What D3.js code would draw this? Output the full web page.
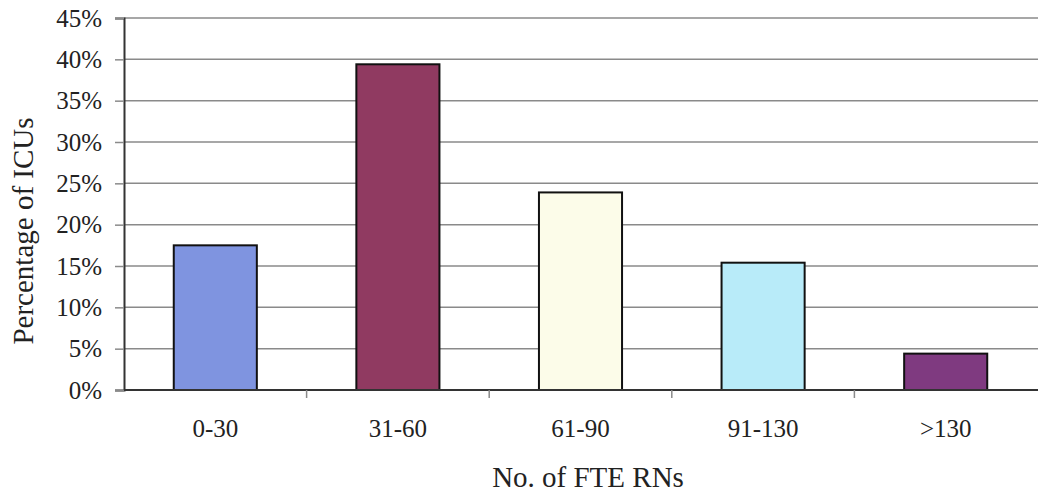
<!DOCTYPE html>
<html>
<head>
<meta charset="utf-8">
<script src="https://cdn.jsdelivr.net/npm/d3@7/dist/d3.min.js"></script>
<style>
  html, body { margin: 0; padding: 0; background: #fff; }
  svg { display: block; }
  text { font-family: "Liberation Serif", "Times New Roman", serif; fill: #222; }
</style>
</head>
<body>
<svg id="chart" width="1038" height="495"></svg>
<script>
const categories = ["0-30", "31-60", "61-90", "91-130", ">130"];
const values = [17.5, 39.4, 23.9, 15.4, 4.4];
const barColors = ["#7f94e0", "#903a61", "#fcfce9", "#b8ebf9", "#7f3a80"];
const yTicks = [0, 5, 10, 15, 20, 25, 30, 35, 40, 45];
const xTitle = "No. of FTE RNs";
const yTitle = "Percentage of ICUs";

const svg = d3.select("#chart");
const plotLeft = 124, plotRight = 1037, plotTop = 18, plotBottom = 390;

const x = d3.scaleBand().domain(categories).range([plotLeft, plotRight])
  .paddingInner(0.545).paddingOuter(0.2725);
const y = d3.scaleLinear().domain([0, 45]).range([plotBottom, plotTop]);

// gridlines
svg.append("g").selectAll("line").data(yTicks).join("line")
  .attr("x1", plotLeft).attr("x2", 1038)
  .attr("y1", d => y(d)).attr("y2", d => y(d))
  .attr("stroke", "#8a8a8a").attr("stroke-width", 1.5);

// y axis
const yAxis = svg.append("g").attr("transform", `translate(${plotLeft},0)`)
  .call(d3.axisLeft(y).tickValues(yTicks).tickFormat(d => d + "%").tickSize(9).tickPadding(13));
yAxis.select(".domain").attr("stroke", "#333").attr("stroke-width", 2);
yAxis.selectAll(".tick line").attr("stroke", "#8a8a8a").attr("stroke-width", 1.5);
yAxis.selectAll("text").attr("font-size", 25).attr("font-family", "Liberation Serif").attr("fill", "#222");

// bars
svg.append("g").selectAll("rect").data(values).join("rect")
  .attr("x", (d, i) => x(categories[i]))
  .attr("width", x.bandwidth())
  .attr("y", d => y(d))
  .attr("height", d => y(0) - y(d))
  .attr("fill", (d, i) => barColors[i])
  .attr("stroke", "#111").attr("stroke-width", 2);

// x axis line
svg.append("line").attr("x1", plotLeft).attr("x2", 1038)
  .attr("y1", y(0)).attr("y2", y(0))
  .attr("stroke", "#333").attr("stroke-width", 2);

// boundary tick marks
const step = x.step();
const bounds = categories.slice(1).map(c => x(c) - x.paddingInner() * step / 2);
svg.append("g").selectAll("line").data(bounds).join("line")
  .attr("x1", d => d).attr("x2", d => d)
  .attr("y1", y(0)).attr("y2", y(0) + 8)
  .attr("stroke", "#8a8a8a").attr("stroke-width", 1.5);

// category labels
const xAxis = svg.append("g").attr("transform", `translate(0,${y(0)})`)
  .call(d3.axisBottom(x).tickSize(0).tickPadding(29));
xAxis.select(".domain").remove();
xAxis.selectAll("text").attr("font-size", 25).attr("font-family", "Liberation Serif").attr("fill", "#222");

// axis titles
svg.append("text").attr("x", 588).attr("y", 487)
  .attr("text-anchor", "middle").attr("font-size", 29).text(xTitle);
svg.append("text").attr("transform", "translate(33,231) rotate(-90)")
  .attr("text-anchor", "middle").attr("font-size", 29).text(yTitle);
</script>
</body>
</html>
